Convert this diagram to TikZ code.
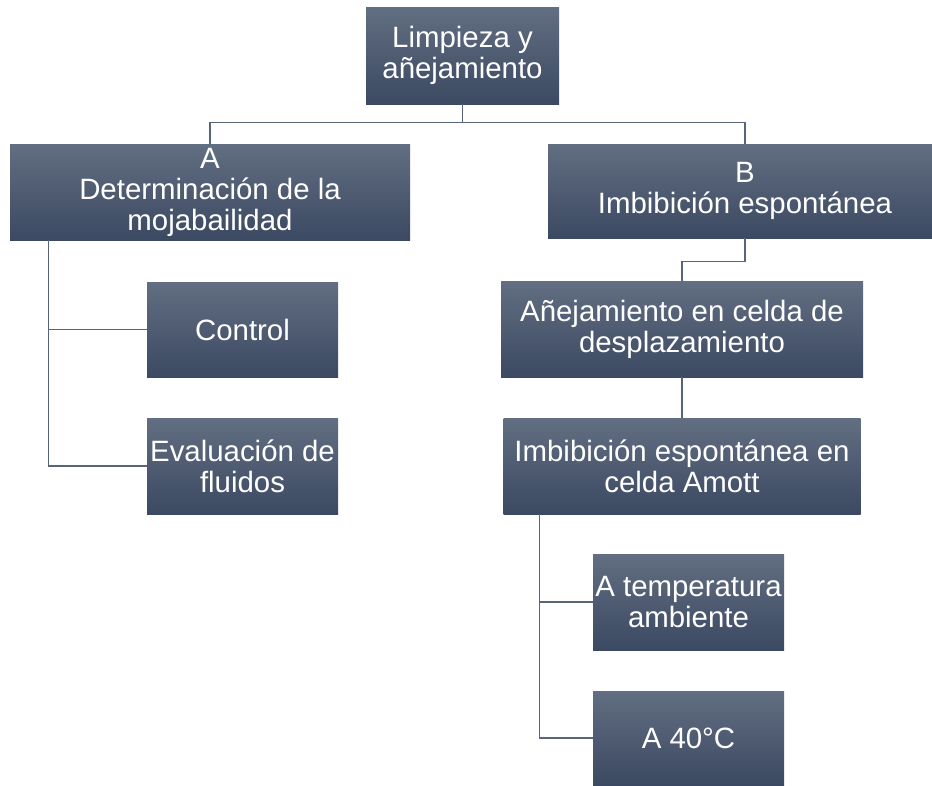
\documentclass[tikz,border=0pt]{standalone}
\usepackage{fontspec}
\setmainfont{Liberation Sans}
\definecolor{boxtop}{HTML}{626E81}
\definecolor{boxbot}{HTML}{3B4962}
\definecolor{linec}{HTML}{56657A}
\begin{document}
\begin{tikzpicture}[x=1pt,y=-1pt,
  box/.style={rectangle, top color=boxtop, bottom color=boxbot, draw=none,
    text=white, align=center, inner sep=0pt,
    font=\fontsize{29.4}{31}\selectfont},
  conn/.style={draw=linec, line width=1.3pt}]
\useasboundingbox (0,0) rectangle (932,785);
\node[box, minimum width=193pt, minimum height=97pt] (root) at (462.5,55.5) {Limpieza y\\añejamiento};
\node[box, minimum width=400pt, minimum height=96pt] (A) at (210,192) {A\\Determinación de la\\mojabailidad};
\node[box, minimum width=394pt, minimum height=94pt] (B) at (745,191) {B\\Imbibición espontánea};
\node[box, minimum width=191pt, minimum height=95pt] (ctrl) at (242.5,329.5) {Control};
\node[box, minimum width=191pt, minimum height=96pt] (eval) at (242.5,466) {Evaluación de\\fluidos};
\node[box, minimum width=362pt, minimum height=96pt] (anej) at (682,329) {Añejamiento en celda de\\desplazamiento};
\node[box, minimum width=357pt, minimum height=96pt] (imb) at (682,466) {Imbibición espontánea en\\celda Amott};
\node[box, minimum width=191pt, minimum height=96pt] (temp) at (688.5,602) {A temperatura\\ambiente};
\node[box, minimum width=191pt, minimum height=94pt] (forty) at (688.5,738) {A 40°C};
\draw[conn] (root.south) -- ++(0,18) -| (A.north);
\draw[conn] (root.south) -- ++(0,18) -| (B.north);
\draw[conn] ([xshift=39pt]A.south west) |- (ctrl.west);
\draw[conn] ([xshift=39pt]A.south west) |- (eval.west);
\draw[conn] (B.south) -- ++(0,23) -| (anej.north);
\draw[conn] (anej.south) -- (imb.north);
\draw[conn] ([xshift=36pt]imb.south west) |- (temp.west);
\draw[conn] ([xshift=36pt]imb.south west) |- (forty.west);
\end{tikzpicture}
\end{document}
